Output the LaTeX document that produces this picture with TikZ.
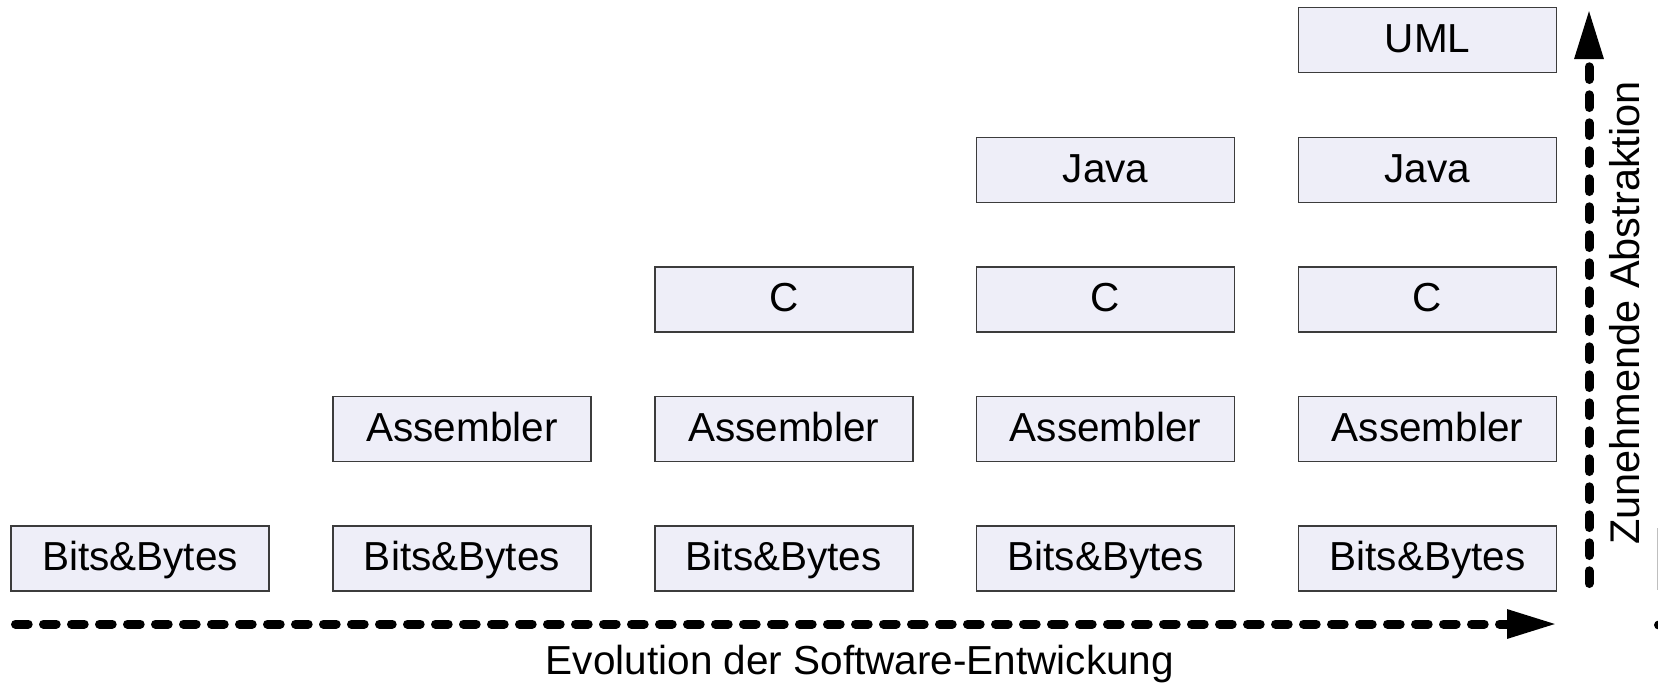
\documentclass[tikz,border=0pt]{standalone}
\usepackage{fontspec}
\setmainfont{Liberation Sans}
\usetikzlibrary{arrows.meta}
\definecolor{boxfill}{RGB}{238,238,248}
\definecolor{boxline}{RGB}{60,60,60}
\begin{document}
\begin{tikzpicture}[x=1pt,y=-1pt,
  layer/.style={draw=boxline, fill=boxfill, line width=1.7pt,
    minimum width=258pt, minimum height=65pt, inner sep=0pt,
    text height=29pt, text depth=5pt, font=\fontsize{40.5}{48}\selectfont},
  axis/.style={line width=9pt, line cap=round,
    dash pattern=on 12.7pt off 15.3pt,
    -{Triangle[length=50pt,width=27pt]}},
  lbl/.style={font=\fontsize{40.5}{48}\selectfont, inner sep=0pt, anchor=base}]
\useasboundingbox (0,0) rectangle (1658,683);

% column 1
\node[layer] (b1) at (140,558.5) {Bits\&Bytes};
% column 2
\node[layer] (b2) at (461.9,558.5) {Bits\&Bytes};
\node[layer] (a2) at (461.9,429) {Assembler};
% column 3
\node[layer] (b3) at (783.8,558.5) {Bits\&Bytes};
\node[layer] (a3) at (783.8,429) {Assembler};
\node[layer] (c3) at (783.8,299.5) {C};
% column 4
\node[layer] (b4) at (1105.6,558.5) {Bits\&Bytes};
\node[layer] (a4) at (1105.6,429) {Assembler};
\node[layer] (c4) at (1105.6,299.5) {C};
\node[layer] (j4) at (1105.6,170) {Java};
% column 5
\node[layer] (b5) at (1427.5,558.5) {Bits\&Bytes};
\node[layer] (a5) at (1427.5,429) {Assembler};
\node[layer] (c5) at (1427.5,299.5) {C};
\node[layer] (j5) at (1427.5,170) {Java};
\node[layer] (u5) at (1427.5,40) {UML};

% axes
\coordinate (hs) at (15.5,624);
\coordinate (he) at (1557,624);
\draw[axis] (hs) -- (he);
\coordinate (vs) at (1589,583.5);
\coordinate (ve) at (1589,9);
\draw[axis] (vs) -- (ve);

% axis labels
\node[lbl] (xl) at (860,674) {Evolution der Software-Entwickung};
\node[lbl, rotate=90, font=\fontsize{41.5}{48}\selectfont] (yl) at (1639,313) {Zunehmende Abstraktion};

% cropped remnants at the right edge
\draw[gray!50, line width=1pt] (1657.5,528) -- (1657.5,590);
\fill (1658.5,625) circle (4.5);
\end{tikzpicture}
\end{document}
